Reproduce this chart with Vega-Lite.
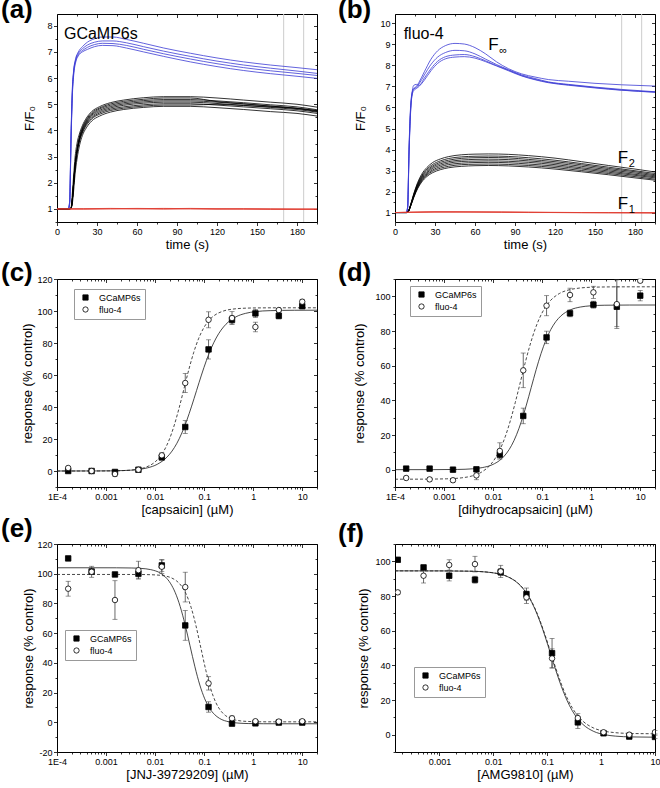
{
"$schema":"https://vega.github.io/schema/vega-lite/v6.json",
"padding":{"top":-4,"left":0,"right":0,"bottom":0},
"background":"white",
"config":{
"font":"Liberation Sans",
"view":{"stroke":"black","strokeWidth":1},
"axis":{"grid":false,"domain":false,"labelFont":"Liberation Sans","labelFontSize":9,"labelColor":"black","labelPadding":1.5,"labelFlush":false,"labelOverlap":false,"labelBound":false,"titleFont":"Liberation Sans","titleFontSize":13,"titleFontWeight":"normal","titleColor":"black","tickColor":"black","tickWidth":0.8,"titlePadding":2},
"title":{"font":"Liberation Sans","fontSize":26,"fontWeight":"bold","anchor":"start","frame":"group","offset":0,"color":"black"},
"legend":{"labelFont":"Liberation Sans","labelFontSize":9,"labelColor":"black","symbolStrokeColor":"black","symbolStrokeWidth":0.8,"symbolSize":28,"padding":4,"rowPadding":2,"strokeColor":"#999999","fillColor":"white","labelOffset":9,"symbolOffset":3},
"text":{"font":"Liberation Sans","color":"black"}
},
"datasets":{
"vr":[{"t":170},{"t":185}],
"lab":[{"p":"a","t":5.2,"y":7.49,"txt":"GCaMP6s"},{"p":"b","t":6.5,"y":9.25,"txt":"fluo-4"}],
"flab":[{"t":70,"y":8.73,"sub":"∞"},{"t":167,"y":3.37,"sub":"2"},{"t":167,"y":1.17,"sub":"1"}],
"ta":[
{"k":"b1","t":0,"y":1},{"k":"b1","t":8.5,"y":1},{"k":"b1","t":9.5,"y":1.3},{"k":"b1","t":10.5,"y":3.8},{"k":"b1","t":11.5,"y":5.6},{"k":"b1","t":12.5,"y":6.3},{"k":"b1","t":14,"y":6.75},{"k":"b1","t":16,"y":7.0},{"k":"b1","t":19,"y":7.2},{"k":"b1","t":23,"y":7.38},{"k":"b1","t":28,"y":7.5},{"k":"b1","t":34,"y":7.57},{"k":"b1","t":42,"y":7.57},{"k":"b1","t":52,"y":7.48},{"k":"b1","t":65,"y":7.33},{"k":"b1","t":80,"y":7.15},{"k":"b1","t":100,"y":6.95},{"k":"b1","t":120,"y":6.77},{"k":"b1","t":140,"y":6.62},{"k":"b1","t":160,"y":6.5},{"k":"b1","t":180,"y":6.4},{"k":"b1","t":195,"y":6.32},
{"k":"b2","t":0,"y":1},{"k":"b2","t":8.5,"y":1},{"k":"b2","t":9.5,"y":1.3},{"k":"b2","t":10.5,"y":3.7},{"k":"b2","t":11.5,"y":5.5},{"k":"b2","t":12.5,"y":6.25},{"k":"b2","t":14,"y":6.7},{"k":"b2","t":16,"y":6.95},{"k":"b2","t":19,"y":7.12},{"k":"b2","t":23,"y":7.27},{"k":"b2","t":28,"y":7.37},{"k":"b2","t":34,"y":7.42},{"k":"b2","t":42,"y":7.42},{"k":"b2","t":52,"y":7.35},{"k":"b2","t":65,"y":7.2},{"k":"b2","t":80,"y":7.03},{"k":"b2","t":100,"y":6.83},{"k":"b2","t":120,"y":6.65},{"k":"b2","t":140,"y":6.5},{"k":"b2","t":160,"y":6.38},{"k":"b2","t":180,"y":6.27},{"k":"b2","t":195,"y":6.18},
{"k":"b3","t":0,"y":1},{"k":"b3","t":8.5,"y":1},{"k":"b3","t":9.5,"y":1.25},{"k":"b3","t":10.5,"y":3.6},{"k":"b3","t":11.5,"y":5.4},{"k":"b3","t":12.5,"y":6.2},{"k":"b3","t":14,"y":6.65},{"k":"b3","t":16,"y":6.9},{"k":"b3","t":19,"y":7.05},{"k":"b3","t":23,"y":7.18},{"k":"b3","t":28,"y":7.28},{"k":"b3","t":34,"y":7.33},{"k":"b3","t":42,"y":7.32},{"k":"b3","t":52,"y":7.25},{"k":"b3","t":65,"y":7.1},{"k":"b3","t":80,"y":6.93},{"k":"b3","t":100,"y":6.73},{"k":"b3","t":120,"y":6.55},{"k":"b3","t":140,"y":6.4},{"k":"b3","t":160,"y":6.28},{"k":"b3","t":180,"y":6.18},{"k":"b3","t":195,"y":6.1},
{"k":"b4","t":0,"y":1},{"k":"b4","t":8.5,"y":1},{"k":"b4","t":9.5,"y":1.2},{"k":"b4","t":10.5,"y":3.5},{"k":"b4","t":11.5,"y":5.3},{"k":"b4","t":12.5,"y":6.1},{"k":"b4","t":14,"y":6.6},{"k":"b4","t":16,"y":6.85},{"k":"b4","t":19,"y":7.0},{"k":"b4","t":23,"y":7.1},{"k":"b4","t":28,"y":7.2},{"k":"b4","t":34,"y":7.25},{"k":"b4","t":42,"y":7.24},{"k":"b4","t":52,"y":7.15},{"k":"b4","t":65,"y":7.0},{"k":"b4","t":80,"y":6.83},{"k":"b4","t":100,"y":6.62},{"k":"b4","t":120,"y":6.44},{"k":"b4","t":140,"y":6.29},{"k":"b4","t":160,"y":6.17},{"k":"b4","t":180,"y":6.07},{"k":"b4","t":195,"y":5.99},
{"k":"k1","t":0,"y":1},{"k":"k1","t":9,"y":1},{"k":"k1","t":10.5,"y":1.02},{"k":"k1","t":11.5,"y":1.2},{"k":"k1","t":12.5,"y":1.7},{"k":"k1","t":13.5,"y":2.3},{"k":"k1","t":15,"y":2.9},{"k":"k1","t":17,"y":3.45},{"k":"k1","t":19,"y":3.8},{"k":"k1","t":22,"y":4.1},{"k":"k1","t":26,"y":4.36},{"k":"k1","t":32,"y":4.55},{"k":"k1","t":40,"y":4.7},{"k":"k1","t":50,"y":4.8},{"k":"k1","t":65,"y":4.88},{"k":"k1","t":80,"y":4.92},{"k":"k1","t":100,"y":4.92},{"k":"k1","t":120,"y":4.87},{"k":"k1","t":140,"y":4.8},{"k":"k1","t":160,"y":4.72},{"k":"k1","t":180,"y":4.65},{"k":"k1","t":195,"y":4.55},
{"k":"k2","t":0,"y":1},{"k":"k2","t":9,"y":1},{"k":"k2","t":10.5,"y":1.02},{"k":"k2","t":11.5,"y":1.34},{"k":"k2","t":12.5,"y":1.97},{"k":"k2","t":13.5,"y":2.55},{"k":"k2","t":15,"y":3.13},{"k":"k2","t":17,"y":3.61},{"k":"k2","t":19,"y":3.9},{"k":"k2","t":22,"y":4.19},{"k":"k2","t":26,"y":4.44},{"k":"k2","t":32,"y":4.62},{"k":"k2","t":40,"y":4.76},{"k":"k2","t":50,"y":4.85},{"k":"k2","t":65,"y":4.93},{"k":"k2","t":80,"y":4.97},{"k":"k2","t":100,"y":4.97},{"k":"k2","t":120,"y":5.0},{"k":"k2","t":140,"y":4.95},{"k":"k2","t":160,"y":4.9},{"k":"k2","t":180,"y":4.84},{"k":"k2","t":195,"y":4.76},
{"k":"k3","t":0,"y":1},{"k":"k3","t":9,"y":1},{"k":"k3","t":10.5,"y":1.02},{"k":"k3","t":11.5,"y":1.34},{"k":"k3","t":12.5,"y":1.98},{"k":"k3","t":13.5,"y":2.57},{"k":"k3","t":15,"y":3.16},{"k":"k3","t":17,"y":3.65},{"k":"k3","t":19,"y":3.94},{"k":"k3","t":22,"y":4.24},{"k":"k3","t":26,"y":4.48},{"k":"k3","t":32,"y":4.67},{"k":"k3","t":40,"y":4.81},{"k":"k3","t":50,"y":4.9},{"k":"k3","t":65,"y":4.98},{"k":"k3","t":80,"y":5.02},{"k":"k3","t":100,"y":5.02},{"k":"k3","t":120,"y":4.97},{"k":"k3","t":140,"y":4.9},{"k":"k3","t":160,"y":4.83},{"k":"k3","t":180,"y":4.75},{"k":"k3","t":195,"y":4.65},
{"k":"k4","t":0,"y":1},{"k":"k4","t":9,"y":1},{"k":"k4","t":10.5,"y":1.02},{"k":"k4","t":11.5,"y":1.35},{"k":"k4","t":12.5,"y":1.99},{"k":"k4","t":13.5,"y":2.59},{"k":"k4","t":15,"y":3.19},{"k":"k4","t":17,"y":3.68},{"k":"k4","t":19,"y":3.98},{"k":"k4","t":22,"y":4.28},{"k":"k4","t":26,"y":4.53},{"k":"k4","t":32,"y":4.72},{"k":"k4","t":40,"y":4.86},{"k":"k4","t":50,"y":4.96},{"k":"k4","t":65,"y":5.04},{"k":"k4","t":80,"y":5.08},{"k":"k4","t":100,"y":5.08},{"k":"k4","t":120,"y":5.03},{"k":"k4","t":140,"y":4.96},{"k":"k4","t":160,"y":4.88},{"k":"k4","t":180,"y":4.8},{"k":"k4","t":195,"y":4.7},
{"k":"k5","t":0,"y":1},{"k":"k5","t":9,"y":1},{"k":"k5","t":10.5,"y":1.02},{"k":"k5","t":11.5,"y":1.35},{"k":"k5","t":12.5,"y":2.01},{"k":"k5","t":13.5,"y":2.61},{"k":"k5","t":15,"y":3.22},{"k":"k5","t":17,"y":3.72},{"k":"k5","t":19,"y":4.02},{"k":"k5","t":22,"y":4.32},{"k":"k5","t":26,"y":4.58},{"k":"k5","t":32,"y":4.77},{"k":"k5","t":40,"y":4.91},{"k":"k5","t":50,"y":5.01},{"k":"k5","t":65,"y":5.09},{"k":"k5","t":80,"y":5.13},{"k":"k5","t":100,"y":5.13},{"k":"k5","t":120,"y":5.08},{"k":"k5","t":140,"y":5.01},{"k":"k5","t":160,"y":4.93},{"k":"k5","t":180,"y":4.85},{"k":"k5","t":195,"y":4.75},
{"k":"k6","t":0,"y":1},{"k":"k6","t":9,"y":1},{"k":"k6","t":10.5,"y":1.02},{"k":"k6","t":11.5,"y":1.36},{"k":"k6","t":12.5,"y":2.02},{"k":"k6","t":13.5,"y":2.63},{"k":"k6","t":15,"y":3.24},{"k":"k6","t":17,"y":3.75},{"k":"k6","t":19,"y":4.06},{"k":"k6","t":22,"y":4.37},{"k":"k6","t":26,"y":4.62},{"k":"k6","t":32,"y":4.82},{"k":"k6","t":40,"y":4.96},{"k":"k6","t":50,"y":5.06},{"k":"k6","t":65,"y":5.14},{"k":"k6","t":80,"y":5.18},{"k":"k6","t":100,"y":5.18},{"k":"k6","t":120,"y":5.13},{"k":"k6","t":140,"y":5.06},{"k":"k6","t":160,"y":4.98},{"k":"k6","t":180,"y":4.9},{"k":"k6","t":195,"y":4.79},
{"k":"k7","t":0,"y":1},{"k":"k7","t":9,"y":1},{"k":"k7","t":10.5,"y":1.02},{"k":"k7","t":11.5,"y":1.36},{"k":"k7","t":12.5,"y":2.03},{"k":"k7","t":13.5,"y":2.65},{"k":"k7","t":15,"y":3.27},{"k":"k7","t":17,"y":3.79},{"k":"k7","t":19,"y":4.1},{"k":"k7","t":22,"y":4.41},{"k":"k7","t":26,"y":4.67},{"k":"k7","t":32,"y":4.86},{"k":"k7","t":40,"y":5.01},{"k":"k7","t":50,"y":5.11},{"k":"k7","t":65,"y":5.19},{"k":"k7","t":80,"y":5.24},{"k":"k7","t":100,"y":5.24},{"k":"k7","t":120,"y":5.1},{"k":"k7","t":140,"y":5.02},{"k":"k7","t":160,"y":4.93},{"k":"k7","t":180,"y":4.84},{"k":"k7","t":195,"y":4.72},
{"k":"k8","t":0,"y":1},{"k":"k8","t":9,"y":1},{"k":"k8","t":10.5,"y":1.05},{"k":"k8","t":11.5,"y":1.6},{"k":"k8","t":12.5,"y":2.3},{"k":"k8","t":13.5,"y":2.95},{"k":"k8","t":15,"y":3.5},{"k":"k8","t":17,"y":3.9},{"k":"k8","t":19,"y":4.18},{"k":"k8","t":22,"y":4.47},{"k":"k8","t":26,"y":4.72},{"k":"k8","t":32,"y":4.91},{"k":"k8","t":40,"y":5.06},{"k":"k8","t":50,"y":5.16},{"k":"k8","t":65,"y":5.25},{"k":"k8","t":80,"y":5.29},{"k":"k8","t":100,"y":5.29},{"k":"k8","t":120,"y":5.24},{"k":"k8","t":140,"y":5.16},{"k":"k8","t":160,"y":5.08},{"k":"k8","t":180,"y":5.0},{"k":"k8","t":195,"y":4.89},
{"k":"r1","t":0,"y":1.0},{"k":"r1","t":20,"y":1.01},{"k":"r1","t":40,"y":1.02},{"k":"r1","t":60,"y":1.01},{"k":"r1","t":80,"y":1.02},{"k":"r1","t":100,"y":1.01},{"k":"r1","t":120,"y":1.0},{"k":"r1","t":140,"y":1.01},{"k":"r1","t":160,"y":1.0},{"k":"r1","t":180,"y":0.99},{"k":"r1","t":195,"y":1.0},
{"k":"r2","t":0,"y":1.0},{"k":"r2","t":20,"y":0.99},{"k":"r2","t":40,"y":1.0},{"k":"r2","t":60,"y":1.0},{"k":"r2","t":80,"y":0.99},{"k":"r2","t":100,"y":1.0},{"k":"r2","t":120,"y":0.99},{"k":"r2","t":140,"y":0.99},{"k":"r2","t":160,"y":0.98},{"k":"r2","t":180,"y":0.98},{"k":"r2","t":195,"y":0.98},
{"k":"r3","t":0,"y":1.0},{"k":"r3","t":20,"y":1.0},{"k":"r3","t":40,"y":1.01},{"k":"r3","t":60,"y":1.02},{"k":"r3","t":80,"y":1.01},{"k":"r3","t":100,"y":1.02},{"k":"r3","t":120,"y":1.01},{"k":"r3","t":140,"y":1.0},{"k":"r3","t":160,"y":1.0},{"k":"r3","t":180,"y":1.0},{"k":"r3","t":195,"y":0.99}
],
"tb":[
{"k":"b1","t":0,"y":1},{"k":"b1","t":8.5,"y":1},{"k":"b1","t":9.5,"y":1.3},{"k":"b1","t":10.5,"y":4.0},{"k":"b1","t":11.5,"y":5.8},{"k":"b1","t":12.5,"y":6.6},{"k":"b1","t":14,"y":6.9},{"k":"b1","t":16,"y":7.0},{"k":"b1","t":18,"y":7.2},{"k":"b1","t":22,"y":7.7},{"k":"b1","t":27,"y":8.3},{"k":"b1","t":32,"y":8.7},{"k":"b1","t":38,"y":8.95},{"k":"b1","t":45,"y":9.05},{"k":"b1","t":52,"y":9.02},{"k":"b1","t":60,"y":8.85},{"k":"b1","t":68,"y":8.55},{"k":"b1","t":76,"y":8.18},{"k":"b1","t":85,"y":7.85},{"k":"b1","t":95,"y":7.6},{"k":"b1","t":105,"y":7.45},{"k":"b1","t":115,"y":7.33},{"k":"b1","t":130,"y":7.25},{"k":"b1","t":150,"y":7.15},{"k":"b1","t":170,"y":7.08},{"k":"b1","t":195,"y":7.02},
{"k":"b2","t":0,"y":1},{"k":"b2","t":8.5,"y":1},{"k":"b2","t":9.5,"y":1.3},{"k":"b2","t":10.5,"y":3.9},{"k":"b2","t":11.5,"y":5.7},{"k":"b2","t":12.5,"y":6.55},{"k":"b2","t":14,"y":6.88},{"k":"b2","t":16,"y":6.95},{"k":"b2","t":18,"y":7.12},{"k":"b2","t":22,"y":7.55},{"k":"b2","t":27,"y":8.05},{"k":"b2","t":32,"y":8.4},{"k":"b2","t":38,"y":8.62},{"k":"b2","t":45,"y":8.72},{"k":"b2","t":52,"y":8.7},{"k":"b2","t":60,"y":8.55},{"k":"b2","t":68,"y":8.3},{"k":"b2","t":76,"y":8.05},{"k":"b2","t":85,"y":7.8},{"k":"b2","t":95,"y":7.55},{"k":"b2","t":105,"y":7.38},{"k":"b2","t":115,"y":7.22},{"k":"b2","t":130,"y":7.1},{"k":"b2","t":150,"y":6.97},{"k":"b2","t":170,"y":6.86},{"k":"b2","t":195,"y":6.75},
{"k":"b3","t":0,"y":1},{"k":"b3","t":8.5,"y":1},{"k":"b3","t":9.5,"y":1.25},{"k":"b3","t":10.5,"y":3.8},{"k":"b3","t":11.5,"y":5.6},{"k":"b3","t":12.5,"y":6.5},{"k":"b3","t":14,"y":7.05},{"k":"b3","t":16,"y":7.1},{"k":"b3","t":18,"y":7.05},{"k":"b3","t":22,"y":7.4},{"k":"b3","t":27,"y":7.85},{"k":"b3","t":32,"y":8.2},{"k":"b3","t":38,"y":8.42},{"k":"b3","t":45,"y":8.5},{"k":"b3","t":52,"y":8.52},{"k":"b3","t":60,"y":8.42},{"k":"b3","t":68,"y":8.22},{"k":"b3","t":76,"y":8.0},{"k":"b3","t":85,"y":7.78},{"k":"b3","t":95,"y":7.52},{"k":"b3","t":105,"y":7.34},{"k":"b3","t":115,"y":7.2},{"k":"b3","t":130,"y":7.08},{"k":"b3","t":150,"y":6.95},{"k":"b3","t":170,"y":6.83},{"k":"b3","t":195,"y":6.72},
{"k":"b4","t":0,"y":1},{"k":"b4","t":8.5,"y":1},{"k":"b4","t":9.5,"y":1.2},{"k":"b4","t":10.5,"y":3.7},{"k":"b4","t":11.5,"y":5.5},{"k":"b4","t":12.5,"y":6.45},{"k":"b4","t":14,"y":6.8},{"k":"b4","t":16,"y":6.9},{"k":"b4","t":18,"y":7.0},{"k":"b4","t":22,"y":7.3},{"k":"b4","t":27,"y":7.75},{"k":"b4","t":32,"y":8.1},{"k":"b4","t":38,"y":8.32},{"k":"b4","t":45,"y":8.4},{"k":"b4","t":52,"y":8.42},{"k":"b4","t":60,"y":8.35},{"k":"b4","t":68,"y":8.18},{"k":"b4","t":76,"y":7.98},{"k":"b4","t":85,"y":7.75},{"k":"b4","t":95,"y":7.5},{"k":"b4","t":105,"y":7.32},{"k":"b4","t":115,"y":7.18},{"k":"b4","t":130,"y":7.06},{"k":"b4","t":150,"y":6.93},{"k":"b4","t":170,"y":6.82},{"k":"b4","t":195,"y":6.74},
{"k":"k1","t":0,"y":1},{"k":"k1","t":9,"y":1},{"k":"k1","t":10,"y":1.04},{"k":"k1","t":12,"y":1.35},{"k":"k1","t":14,"y":1.7},{"k":"k1","t":17,"y":2.14},{"k":"k1","t":20,"y":2.45},{"k":"k1","t":24,"y":2.72},{"k":"k1","t":28,"y":2.89},{"k":"k1","t":34,"y":3.04},{"k":"k1","t":40,"y":3.13},{"k":"k1","t":50,"y":3.2},{"k":"k1","t":60,"y":3.23},{"k":"k1","t":70,"y":3.24},{"k":"k1","t":85,"y":3.22},{"k":"k1","t":100,"y":3.17},{"k":"k1","t":120,"y":3.07},{"k":"k1","t":140,"y":2.94},{"k":"k1","t":160,"y":2.8},{"k":"k1","t":180,"y":2.65},{"k":"k1","t":195,"y":2.54},
{"k":"k2","t":0,"y":1},{"k":"k2","t":9,"y":1},{"k":"k2","t":10,"y":1.05},{"k":"k2","t":12,"y":1.36},{"k":"k2","t":14,"y":1.73},{"k":"k2","t":17,"y":2.18},{"k":"k2","t":20,"y":2.5},{"k":"k2","t":24,"y":2.78},{"k":"k2","t":28,"y":2.96},{"k":"k2","t":34,"y":3.11},{"k":"k2","t":40,"y":3.2},{"k":"k2","t":50,"y":3.28},{"k":"k2","t":60,"y":3.3},{"k":"k2","t":70,"y":3.31},{"k":"k2","t":85,"y":3.29},{"k":"k2","t":100,"y":3.24},{"k":"k2","t":120,"y":3.14},{"k":"k2","t":140,"y":3.0},{"k":"k2","t":160,"y":2.86},{"k":"k2","t":180,"y":2.71},{"k":"k2","t":195,"y":2.59},
{"k":"k3","t":0,"y":1},{"k":"k3","t":9,"y":1},{"k":"k3","t":10,"y":1.05},{"k":"k3","t":12,"y":1.38},{"k":"k3","t":14,"y":1.75},{"k":"k3","t":17,"y":2.22},{"k":"k3","t":20,"y":2.55},{"k":"k3","t":24,"y":2.83},{"k":"k3","t":28,"y":3.02},{"k":"k3","t":34,"y":3.18},{"k":"k3","t":40,"y":3.28},{"k":"k3","t":50,"y":3.35},{"k":"k3","t":60,"y":3.38},{"k":"k3","t":70,"y":3.39},{"k":"k3","t":85,"y":3.37},{"k":"k3","t":100,"y":3.31},{"k":"k3","t":120,"y":3.21},{"k":"k3","t":140,"y":3.07},{"k":"k3","t":160,"y":2.92},{"k":"k3","t":180,"y":2.77},{"k":"k3","t":195,"y":2.65},
{"k":"k4","t":0,"y":1},{"k":"k4","t":9,"y":1},{"k":"k4","t":10,"y":1.05},{"k":"k4","t":12,"y":1.39},{"k":"k4","t":14,"y":1.78},{"k":"k4","t":17,"y":2.26},{"k":"k4","t":20,"y":2.6},{"k":"k4","t":24,"y":2.89},{"k":"k4","t":28,"y":3.09},{"k":"k4","t":34,"y":3.25},{"k":"k4","t":40,"y":3.35},{"k":"k4","t":50,"y":3.43},{"k":"k4","t":60,"y":3.45},{"k":"k4","t":70,"y":3.46},{"k":"k4","t":85,"y":3.44},{"k":"k4","t":100,"y":3.39},{"k":"k4","t":120,"y":3.28},{"k":"k4","t":140,"y":3.13},{"k":"k4","t":160,"y":2.98},{"k":"k4","t":180,"y":2.82},{"k":"k4","t":195,"y":2.7},
{"k":"k5","t":0,"y":1},{"k":"k5","t":9,"y":1},{"k":"k5","t":10,"y":1.05},{"k":"k5","t":12,"y":1.4},{"k":"k5","t":14,"y":1.8},{"k":"k5","t":17,"y":2.3},{"k":"k5","t":20,"y":2.65},{"k":"k5","t":24,"y":2.95},{"k":"k5","t":28,"y":3.15},{"k":"k5","t":34,"y":3.32},{"k":"k5","t":40,"y":3.42},{"k":"k5","t":50,"y":3.5},{"k":"k5","t":60,"y":3.53},{"k":"k5","t":70,"y":3.54},{"k":"k5","t":85,"y":3.52},{"k":"k5","t":100,"y":3.46},{"k":"k5","t":120,"y":3.35},{"k":"k5","t":140,"y":3.2},{"k":"k5","t":160,"y":3.04},{"k":"k5","t":180,"y":2.88},{"k":"k5","t":195,"y":2.75},
{"k":"k6","t":0,"y":1},{"k":"k6","t":9,"y":1},{"k":"k6","t":10,"y":1.05},{"k":"k6","t":12,"y":1.41},{"k":"k6","t":14,"y":1.82},{"k":"k6","t":17,"y":2.34},{"k":"k6","t":20,"y":2.7},{"k":"k6","t":24,"y":3.01},{"k":"k6","t":28,"y":3.21},{"k":"k6","t":34,"y":3.39},{"k":"k6","t":40,"y":3.49},{"k":"k6","t":50,"y":3.58},{"k":"k6","t":60,"y":3.61},{"k":"k6","t":70,"y":3.62},{"k":"k6","t":85,"y":3.6},{"k":"k6","t":100,"y":3.53},{"k":"k6","t":120,"y":3.42},{"k":"k6","t":140,"y":3.27},{"k":"k6","t":160,"y":3.1},{"k":"k6","t":180,"y":2.94},{"k":"k6","t":195,"y":2.8},
{"k":"k7","t":0,"y":1},{"k":"k7","t":9,"y":1},{"k":"k7","t":10,"y":1.05},{"k":"k7","t":12,"y":1.42},{"k":"k7","t":14,"y":1.85},{"k":"k7","t":17,"y":2.38},{"k":"k7","t":20,"y":2.75},{"k":"k7","t":24,"y":3.07},{"k":"k7","t":28,"y":3.28},{"k":"k7","t":34,"y":3.46},{"k":"k7","t":40,"y":3.57},{"k":"k7","t":50,"y":3.65},{"k":"k7","t":60,"y":3.68},{"k":"k7","t":70,"y":3.69},{"k":"k7","t":85,"y":3.67},{"k":"k7","t":100,"y":3.61},{"k":"k7","t":120,"y":3.49},{"k":"k7","t":140,"y":3.33},{"k":"k7","t":160,"y":3.16},{"k":"k7","t":180,"y":2.99},{"k":"k7","t":195,"y":2.86},
{"k":"k8","t":0,"y":1},{"k":"k8","t":9,"y":1},{"k":"k8","t":10,"y":1.06},{"k":"k8","t":12,"y":1.44},{"k":"k8","t":14,"y":1.88},{"k":"k8","t":17,"y":2.43},{"k":"k8","t":20,"y":2.82},{"k":"k8","t":24,"y":3.15},{"k":"k8","t":28,"y":3.37},{"k":"k8","t":34,"y":3.55},{"k":"k8","t":40,"y":3.66},{"k":"k8","t":50,"y":3.75},{"k":"k8","t":60,"y":3.78},{"k":"k8","t":70,"y":3.79},{"k":"k8","t":85,"y":3.77},{"k":"k8","t":100,"y":3.71},{"k":"k8","t":120,"y":3.59},{"k":"k8","t":140,"y":3.42},{"k":"k8","t":160,"y":3.24},{"k":"k8","t":180,"y":3.07},{"k":"k8","t":195,"y":2.93},
{"k":"r1","t":0,"y":1.0},{"k":"r1","t":15,"y":1.02},{"k":"r1","t":30,"y":1.03},{"k":"r1","t":45,"y":1.03},{"k":"r1","t":60,"y":1.03},{"k":"r1","t":80,"y":1.02},{"k":"r1","t":100,"y":1.01},{"k":"r1","t":120,"y":1.0},{"k":"r1","t":140,"y":1.0},{"k":"r1","t":160,"y":0.99},{"k":"r1","t":180,"y":0.99},{"k":"r1","t":195,"y":0.99},
{"k":"r2","t":0,"y":1.0},{"k":"r2","t":15,"y":1.01},{"k":"r2","t":30,"y":1.02},{"k":"r2","t":45,"y":1.02},{"k":"r2","t":60,"y":1.02},{"k":"r2","t":80,"y":1.01},{"k":"r2","t":100,"y":1.0},{"k":"r2","t":120,"y":1.0},{"k":"r2","t":140,"y":0.99},{"k":"r2","t":160,"y":0.99},{"k":"r2","t":180,"y":0.98},{"k":"r2","t":195,"y":0.98},
{"k":"r3","t":0,"y":1.0},{"k":"r3","t":15,"y":1.02},{"k":"r3","t":30,"y":1.04},{"k":"r3","t":45,"y":1.04},{"k":"r3","t":60,"y":1.03},{"k":"r3","t":80,"y":1.03},{"k":"r3","t":100,"y":1.02},{"k":"r3","t":120,"y":1.01},{"k":"r3","t":140,"y":1.0},{"k":"r3","t":160,"y":1.0},{"k":"r3","t":180,"y":1.0},{"k":"r3","t":195,"y":0.99}
],
"pts":[
{"p":"c","s":"GCaMP6s","c":0.000169,"y":0,"e":1},{"p":"c","s":"GCaMP6s","c":0.000508,"y":0,"e":1},{"p":"c","s":"GCaMP6s","c":0.00152,"y":-0.6,"e":1},{"p":"c","s":"GCaMP6s","c":0.00457,"y":0.8,"e":1},{"p":"c","s":"GCaMP6s","c":0.0137,"y":8.5,"e":1.5},{"p":"c","s":"GCaMP6s","c":0.0412,"y":27.5,"e":4},{"p":"c","s":"GCaMP6s","c":0.123,"y":76,"e":6},{"p":"c","s":"GCaMP6s","c":0.37,"y":94.5,"e":2.5},{"p":"c","s":"GCaMP6s","c":1.11,"y":98.5,"e":2.5},{"p":"c","s":"GCaMP6s","c":3.33,"y":97,"e":2},{"p":"c","s":"GCaMP6s","c":10,"y":103,"e":1.5},
{"p":"c","s":"fluo-4","c":0.000169,"y":1.9,"e":1},{"p":"c","s":"fluo-4","c":0.000508,"y":0,"e":1},{"p":"c","s":"fluo-4","c":0.00152,"y":-1.9,"e":1.5},{"p":"c","s":"fluo-4","c":0.00457,"y":0.8,"e":1},{"p":"c","s":"fluo-4","c":0.0137,"y":9.8,"e":1.5},{"p":"c","s":"fluo-4","c":0.0412,"y":55,"e":6},{"p":"c","s":"fluo-4","c":0.123,"y":94.5,"e":5},{"p":"c","s":"fluo-4","c":0.37,"y":95.6,"e":4},{"p":"c","s":"fluo-4","c":1.11,"y":90,"e":3},{"p":"c","s":"fluo-4","c":3.33,"y":100.6,"e":1},{"p":"c","s":"fluo-4","c":10,"y":105.8,"e":1.5},
{"p":"d","s":"GCaMP6s","c":0.000169,"y":0.6,"e":1},{"p":"d","s":"GCaMP6s","c":0.000508,"y":0.6,"e":1},{"p":"d","s":"GCaMP6s","c":0.00152,"y":0,"e":1},{"p":"d","s":"GCaMP6s","c":0.00457,"y":0.2,"e":1},{"p":"d","s":"GCaMP6s","c":0.0137,"y":8.7,"e":2},{"p":"d","s":"GCaMP6s","c":0.0412,"y":31,"e":4.5},{"p":"d","s":"GCaMP6s","c":0.123,"y":76.3,"e":3.6},{"p":"d","s":"GCaMP6s","c":0.37,"y":90.2,"e":2},{"p":"d","s":"GCaMP6s","c":1.11,"y":95.2,"e":2},{"p":"d","s":"GCaMP6s","c":3.33,"y":94,"e":11.5},{"p":"d","s":"GCaMP6s","c":10,"y":100.4,"e":3},
{"p":"d","s":"fluo-4","c":0.000169,"y":-4.8,"e":1},{"p":"d","s":"fluo-4","c":0.000508,"y":-5.6,"e":1},{"p":"d","s":"fluo-4","c":0.00152,"y":-6.1,"e":1},{"p":"d","s":"fluo-4","c":0.00457,"y":-3.3,"e":2.5},{"p":"d","s":"fluo-4","c":0.0137,"y":10.8,"e":4.7},{"p":"d","s":"fluo-4","c":0.0412,"y":57.3,"e":10},{"p":"d","s":"fluo-4","c":0.123,"y":94.6,"e":5.8},{"p":"d","s":"fluo-4","c":0.37,"y":100.8,"e":3.9},{"p":"d","s":"fluo-4","c":1.11,"y":102.3,"e":3.5},{"p":"d","s":"fluo-4","c":3.33,"y":95.5,"e":14},{"p":"d","s":"fluo-4","c":10,"y":109,"e":1},
{"p":"e","s":"GCaMP6s","c":0.000169,"y":110.3,"e":1},{"p":"e","s":"GCaMP6s","c":0.000508,"y":101.5,"e":1},{"p":"e","s":"GCaMP6s","c":0.00152,"y":99.5,"e":1},{"p":"e","s":"GCaMP6s","c":0.00457,"y":100,"e":3},{"p":"e","s":"GCaMP6s","c":0.0137,"y":105.6,"e":4},{"p":"e","s":"GCaMP6s","c":0.0412,"y":65.2,"e":10},{"p":"e","s":"GCaMP6s","c":0.123,"y":10.3,"e":3.5},{"p":"e","s":"GCaMP6s","c":0.37,"y":-0.9,"e":1},{"p":"e","s":"GCaMP6s","c":1.11,"y":-0.7,"e":1},{"p":"e","s":"GCaMP6s","c":3.33,"y":-0.2,"e":1},{"p":"e","s":"GCaMP6s","c":10,"y":-0.2,"e":1},
{"p":"e","s":"fluo-4","c":0.000169,"y":89.9,"e":5},{"p":"e","s":"fluo-4","c":0.000508,"y":101.3,"e":3.7},{"p":"e","s":"fluo-4","c":0.00152,"y":82.3,"e":13},{"p":"e","s":"fluo-4","c":0.00457,"y":102.4,"e":6},{"p":"e","s":"fluo-4","c":0.0137,"y":104.7,"e":4.5},{"p":"e","s":"fluo-4","c":0.0412,"y":91,"e":10},{"p":"e","s":"fluo-4","c":0.123,"y":26.2,"e":4.5},{"p":"e","s":"fluo-4","c":0.37,"y":2.7,"e":1.5},{"p":"e","s":"fluo-4","c":1.11,"y":0.7,"e":1},{"p":"e","s":"fluo-4","c":3.33,"y":0.5,"e":1},{"p":"e","s":"fluo-4","c":10,"y":0.7,"e":1},
{"p":"f","s":"GCaMP6s","c":0.000169,"y":100.9,"e":1},{"p":"f","s":"GCaMP6s","c":0.000508,"y":96.5,"e":1},{"p":"f","s":"GCaMP6s","c":0.00152,"y":91.7,"e":3},{"p":"f","s":"GCaMP6s","c":0.00457,"y":89.4,"e":2},{"p":"f","s":"GCaMP6s","c":0.0137,"y":93.8,"e":2},{"p":"f","s":"GCaMP6s","c":0.0412,"y":81.1,"e":3.5},{"p":"f","s":"GCaMP6s","c":0.123,"y":47,"e":8.5},{"p":"f","s":"GCaMP6s","c":0.37,"y":7.1,"e":3.5},{"p":"f","s":"GCaMP6s","c":1.11,"y":0.8,"e":1},{"p":"f","s":"GCaMP6s","c":3.33,"y":-1.1,"e":1},{"p":"f","s":"GCaMP6s","c":10,"y":-1.3,"e":1},
{"p":"f","s":"fluo-4","c":0.000169,"y":82.1,"e":1},{"p":"f","s":"fluo-4","c":0.000508,"y":91.7,"e":4.2},{"p":"f","s":"fluo-4","c":0.00152,"y":97.9,"e":3},{"p":"f","s":"fluo-4","c":0.00457,"y":98.4,"e":4.5},{"p":"f","s":"fluo-4","c":0.0137,"y":94.2,"e":3.5},{"p":"f","s":"fluo-4","c":0.0412,"y":79.2,"e":3.5},{"p":"f","s":"fluo-4","c":0.123,"y":44,"e":5.5},{"p":"f","s":"fluo-4","c":0.37,"y":9.6,"e":2.5},{"p":"f","s":"fluo-4","c":1.11,"y":1.4,"e":1},{"p":"f","s":"fluo-4","c":3.33,"y":0,"e":1},{"p":"f","s":"fluo-4","c":10,"y":1.4,"e":1}
],
"fit":[
{"p":"c","s":"GCaMP6s","c":0.0001,"y":0},{"p":"c","s":"GCaMP6s","c":0.0007,"y":0.04},{"p":"c","s":"GCaMP6s","c":0.002214,"y":0.28},{"p":"c","s":"GCaMP6s","c":0.004417,"y":0.9},{"p":"c","s":"GCaMP6s","c":0.007,"y":1.97},{"p":"c","s":"GCaMP6s","c":0.01109,"y":4.2},{"p":"c","s":"GCaMP6s","c":0.01758,"y":8.76},{"p":"c","s":"GCaMP6s","c":0.02214,"y":12.44},{"p":"c","s":"GCaMP6s","c":0.02787,"y":17.37},{"p":"c","s":"GCaMP6s","c":0.03508,"y":23.73},{"p":"c","s":"GCaMP6s","c":0.04417,"y":31.53},{"p":"c","s":"GCaMP6s","c":0.0556,"y":40.54},{"p":"c","s":"GCaMP6s","c":0.07,"y":50.25},{"p":"c","s":"GCaMP6s","c":0.08812,"y":59.96},{"p":"c","s":"GCaMP6s","c":0.1109,"y":68.97},{"p":"c","s":"GCaMP6s","c":0.1397,"y":76.77},{"p":"c","s":"GCaMP6s","c":0.1758,"y":83.13},{"p":"c","s":"GCaMP6s","c":0.2214,"y":88.06},{"p":"c","s":"GCaMP6s","c":0.2787,"y":91.74},{"p":"c","s":"GCaMP6s","c":0.4417,"y":96.3},{"p":"c","s":"GCaMP6s","c":0.7,"y":98.53},{"p":"c","s":"GCaMP6s","c":1.109,"y":99.6},{"p":"c","s":"GCaMP6s","c":2.214,"y":100.22},{"p":"c","s":"GCaMP6s","c":7,"y":100.46},{"p":"c","s":"GCaMP6s","c":20,"y":100.5},
{"p":"c","s":"fluo-4","c":0.0001,"y":0},{"p":"c","s":"fluo-4","c":0.000385,"y":0.01},{"p":"c","s":"fluo-4","c":0.001217,"y":0.07},{"p":"c","s":"fluo-4","c":0.002429,"y":0.31},{"p":"c","s":"fluo-4","c":0.00385,"y":0.81},{"p":"c","s":"fluo-4","c":0.006102,"y":2.09},{"p":"c","s":"fluo-4","c":0.009671,"y":5.31},{"p":"c","s":"fluo-4","c":0.01217,"y":8.34},{"p":"c","s":"fluo-4","c":0.01533,"y":12.88},{"p":"c","s":"fluo-4","c":0.0193,"y":19.37},{"p":"c","s":"fluo-4","c":0.02429,"y":28.1},{"p":"c","s":"fluo-4","c":0.03058,"y":38.9},{"p":"c","s":"fluo-4","c":0.0385,"y":51},{"p":"c","s":"fluo-4","c":0.04847,"y":63.1},{"p":"c","s":"fluo-4","c":0.06102,"y":73.9},{"p":"c","s":"fluo-4","c":0.07682,"y":82.63},{"p":"c","s":"fluo-4","c":0.09671,"y":89.12},{"p":"c","s":"fluo-4","c":0.1217,"y":93.66},{"p":"c","s":"fluo-4","c":0.1533,"y":96.69},{"p":"c","s":"fluo-4","c":0.2429,"y":99.91},{"p":"c","s":"fluo-4","c":0.385,"y":101.19},{"p":"c","s":"fluo-4","c":0.6102,"y":101.69},{"p":"c","s":"fluo-4","c":1.217,"y":101.93},{"p":"c","s":"fluo-4","c":3.85,"y":102},{"p":"c","s":"fluo-4","c":20,"y":102},
{"p":"d","s":"GCaMP6s","c":0.0001,"y":0},{"p":"d","s":"GCaMP6s","c":0.0006,"y":0.02},{"p":"d","s":"GCaMP6s","c":0.001897,"y":0.13},{"p":"d","s":"GCaMP6s","c":0.003786,"y":0.49},{"p":"d","s":"GCaMP6s","c":0.006,"y":1.18},{"p":"d","s":"GCaMP6s","c":0.00951,"y":2.78},{"p":"d","s":"GCaMP6s","c":0.01507,"y":6.41},{"p":"d","s":"GCaMP6s","c":0.01897,"y":9.59},{"p":"d","s":"GCaMP6s","c":0.02389,"y":14.07},{"p":"d","s":"GCaMP6s","c":0.03007,"y":20.15},{"p":"d","s":"GCaMP6s","c":0.03786,"y":27.95},{"p":"d","s":"GCaMP6s","c":0.04766,"y":37.27},{"p":"d","s":"GCaMP6s","c":0.06,"y":47.5},{"p":"d","s":"GCaMP6s","c":0.07553,"y":57.73},{"p":"d","s":"GCaMP6s","c":0.0951,"y":67.05},{"p":"d","s":"GCaMP6s","c":0.1197,"y":74.85},{"p":"d","s":"GCaMP6s","c":0.1507,"y":80.93},{"p":"d","s":"GCaMP6s","c":0.1897,"y":85.41},{"p":"d","s":"GCaMP6s","c":0.2389,"y":88.59},{"p":"d","s":"GCaMP6s","c":0.3786,"y":92.22},{"p":"d","s":"GCaMP6s","c":0.6,"y":93.82},{"p":"d","s":"GCaMP6s","c":0.951,"y":94.51},{"p":"d","s":"GCaMP6s","c":1.897,"y":94.87},{"p":"d","s":"GCaMP6s","c":6,"y":94.98},{"p":"d","s":"GCaMP6s","c":20,"y":95},
{"p":"d","s":"fluo-4","c":0.0001,"y":-5.5},{"p":"d","s":"fluo-4","c":0.000356,"y":-5.47},{"p":"d","s":"fluo-4","c":0.001126,"y":-5.28},{"p":"d","s":"fluo-4","c":0.002246,"y":-4.73},{"p":"d","s":"fluo-4","c":0.00356,"y":-3.77},{"p":"d","s":"fluo-4","c":0.005643,"y":-1.62},{"p":"d","s":"fluo-4","c":0.008943,"y":3.02},{"p":"d","s":"fluo-4","c":0.01126,"y":6.91},{"p":"d","s":"fluo-4","c":0.01417,"y":12.26},{"p":"d","s":"fluo-4","c":0.01784,"y":19.34},{"p":"d","s":"fluo-4","c":0.02246,"y":28.23},{"p":"d","s":"fluo-4","c":0.02828,"y":38.66},{"p":"d","s":"fluo-4","c":0.0356,"y":50},{"p":"d","s":"fluo-4","c":0.04482,"y":61.34},{"p":"d","s":"fluo-4","c":0.05642,"y":71.77},{"p":"d","s":"fluo-4","c":0.07103,"y":80.66},{"p":"d","s":"fluo-4","c":0.08942,"y":87.74},{"p":"d","s":"fluo-4","c":0.1126,"y":93.09},{"p":"d","s":"fluo-4","c":0.1417,"y":96.98},{"p":"d","s":"fluo-4","c":0.2246,"y":101.62},{"p":"d","s":"fluo-4","c":0.356,"y":103.77},{"p":"d","s":"fluo-4","c":0.5642,"y":104.73},{"p":"d","s":"fluo-4","c":1.126,"y":105.28},{"p":"d","s":"fluo-4","c":3.56,"y":105.47},{"p":"d","s":"fluo-4","c":20,"y":105.5},
{"p":"e","s":"GCaMP6s","c":0.0001,"y":104},{"p":"e","s":"GCaMP6s","c":0.000515,"y":104},{"p":"e","s":"GCaMP6s","c":0.001629,"y":103.98},{"p":"e","s":"GCaMP6s","c":0.00325,"y":103.86},{"p":"e","s":"GCaMP6s","c":0.00515,"y":103.58},{"p":"e","s":"GCaMP6s","c":0.008163,"y":102.75},{"p":"e","s":"GCaMP6s","c":0.01294,"y":100.33},{"p":"e","s":"GCaMP6s","c":0.01629,"y":97.76},{"p":"e","s":"GCaMP6s","c":0.0205,"y":93.63},{"p":"e","s":"GCaMP6s","c":0.02581,"y":87.2},{"p":"e","s":"GCaMP6s","c":0.0325,"y":77.89},{"p":"e","s":"GCaMP6s","c":0.04091,"y":65.65},{"p":"e","s":"GCaMP6s","c":0.0515,"y":51.5},{"p":"e","s":"GCaMP6s","c":0.06483,"y":37.35},{"p":"e","s":"GCaMP6s","c":0.08162,"y":25.11},{"p":"e","s":"GCaMP6s","c":0.1028,"y":15.8},{"p":"e","s":"GCaMP6s","c":0.1294,"y":9.37},{"p":"e","s":"GCaMP6s","c":0.1629,"y":5.24},{"p":"e","s":"GCaMP6s","c":0.205,"y":2.67},{"p":"e","s":"GCaMP6s","c":0.325,"y":0.25},{"p":"e","s":"GCaMP6s","c":0.515,"y":-0.58},{"p":"e","s":"GCaMP6s","c":0.8162,"y":-0.86},{"p":"e","s":"GCaMP6s","c":1.629,"y":-0.98},{"p":"e","s":"GCaMP6s","c":5.15,"y":-1},{"p":"e","s":"GCaMP6s","c":20,"y":-1},
{"p":"e","s":"fluo-4","c":0.0001,"y":99.5},{"p":"e","s":"fluo-4","c":0.00086,"y":99.5},{"p":"e","s":"fluo-4","c":0.002719,"y":99.49},{"p":"e","s":"fluo-4","c":0.005427,"y":99.45},{"p":"e","s":"fluo-4","c":0.0086,"y":99.3},{"p":"e","s":"fluo-4","c":0.01363,"y":98.82},{"p":"e","s":"fluo-4","c":0.0216,"y":97.18},{"p":"e","s":"fluo-4","c":0.02719,"y":95.25},{"p":"e","s":"fluo-4","c":0.03424,"y":91.88},{"p":"e","s":"fluo-4","c":0.0431,"y":86.2},{"p":"e","s":"fluo-4","c":0.05427,"y":77.3},{"p":"e","s":"fluo-4","c":0.06831,"y":64.84},{"p":"e","s":"fluo-4","c":0.086,"y":49.9},{"p":"e","s":"fluo-4","c":0.1083,"y":34.96},{"p":"e","s":"fluo-4","c":0.1363,"y":22.5},{"p":"e","s":"fluo-4","c":0.1716,"y":13.6},{"p":"e","s":"fluo-4","c":0.216,"y":7.92},{"p":"e","s":"fluo-4","c":0.2719,"y":4.55},{"p":"e","s":"fluo-4","c":0.3424,"y":2.62},{"p":"e","s":"fluo-4","c":0.5426,"y":0.98},{"p":"e","s":"fluo-4","c":0.86,"y":0.5},{"p":"e","s":"fluo-4","c":1.363,"y":0.35},{"p":"e","s":"fluo-4","c":2.719,"y":0.3},{"p":"e","s":"fluo-4","c":20,"y":0.3},
{"p":"f","s":"GCaMP6s","c":0.00015,"y":94.5},{"p":"f","s":"GCaMP6s","c":0.00116,"y":94.47},{"p":"f","s":"GCaMP6s","c":0.003668,"y":94.31},{"p":"f","s":"GCaMP6s","c":0.00732,"y":93.84},{"p":"f","s":"GCaMP6s","c":0.0116,"y":93},{"p":"f","s":"GCaMP6s","c":0.01839,"y":91.14},{"p":"f","s":"GCaMP6s","c":0.02914,"y":87.13},{"p":"f","s":"GCaMP6s","c":0.03668,"y":83.77},{"p":"f","s":"GCaMP6s","c":0.04618,"y":79.14},{"p":"f","s":"GCaMP6s","c":0.05814,"y":73.02},{"p":"f","s":"GCaMP6s","c":0.0732,"y":65.33},{"p":"f","s":"GCaMP6s","c":0.09214,"y":56.31},{"p":"f","s":"GCaMP6s","c":0.116,"y":46.5},{"p":"f","s":"GCaMP6s","c":0.146,"y":36.69},{"p":"f","s":"GCaMP6s","c":0.1839,"y":27.67},{"p":"f","s":"GCaMP6s","c":0.2315,"y":19.98},{"p":"f","s":"GCaMP6s","c":0.2914,"y":13.86},{"p":"f","s":"GCaMP6s","c":0.3668,"y":9.23},{"p":"f","s":"GCaMP6s","c":0.4618,"y":5.87},{"p":"f","s":"GCaMP6s","c":0.7319,"y":1.86},{"p":"f","s":"GCaMP6s","c":1.16,"y":0},{"p":"f","s":"GCaMP6s","c":1.838,"y":-0.84},{"p":"f","s":"GCaMP6s","c":3.668,"y":-1.31},{"p":"f","s":"GCaMP6s","c":10,"y":-1.47},
{"p":"f","s":"fluo-4","c":0.00015,"y":94.5},{"p":"f","s":"fluo-4","c":0.00116,"y":94.47},{"p":"f","s":"fluo-4","c":0.003668,"y":94.31},{"p":"f","s":"fluo-4","c":0.00732,"y":93.85},{"p":"f","s":"fluo-4","c":0.0116,"y":93.03},{"p":"f","s":"fluo-4","c":0.01839,"y":91.21},{"p":"f","s":"fluo-4","c":0.02914,"y":87.28},{"p":"f","s":"fluo-4","c":0.03668,"y":83.99},{"p":"f","s":"fluo-4","c":0.04618,"y":79.46},{"p":"f","s":"fluo-4","c":0.05814,"y":73.46},{"p":"f","s":"fluo-4","c":0.0732,"y":65.93},{"p":"f","s":"fluo-4","c":0.09214,"y":57.11},{"p":"f","s":"fluo-4","c":0.116,"y":47.5},{"p":"f","s":"fluo-4","c":0.146,"y":37.89},{"p":"f","s":"fluo-4","c":0.1839,"y":29.07},{"p":"f","s":"fluo-4","c":0.2315,"y":21.54},{"p":"f","s":"fluo-4","c":0.2914,"y":15.54},{"p":"f","s":"fluo-4","c":0.3668,"y":11.01},{"p":"f","s":"fluo-4","c":0.4618,"y":7.72},{"p":"f","s":"fluo-4","c":0.7319,"y":3.79},{"p":"f","s":"fluo-4","c":1.16,"y":1.97},{"p":"f","s":"fluo-4","c":1.838,"y":1.15},{"p":"f","s":"fluo-4","c":3.668,"y":0.69},{"p":"f","s":"fluo-4","c":10,"y":0.53}
]
},
"columns":2,
"spacing":{"row":57,"column":78},
"bounds":"flush",
"resolve":{"scale":{"shape":"independent","fill":"independent","stroke":"independent"},"legend":{"shape":"independent","fill":"independent","stroke":"independent"}},
"concat":[
{"title":{"text":"(a)","dx":-56,"dy":13},"width":260,"height":208,
"resolve":{"axis":{"x":"independent","y":"independent"}},
"layer":[
{"data":{"name":"vr"},"mark":{"type":"rule","color":"#cccccc","strokeWidth":1},
"encoding":{"x":{"field":"t","type":"quantitative","scale":{"domain":[0,195],"nice":false,"zero":false},
"axis":{"orient":"top","title":null,"labels":false,"values":[0,15,30,45,60,75,90,105,120,135,150,165,180,195],"tickSize":{"condition":{"test":"datum.value % 30 == 0","value":-3.5},"value":-2}}}}},
{"data":{"name":"ta"},"mark":{"type":"line","strokeWidth":0.8,"interpolate":"monotone"},
"encoding":{"x":{"field":"t","type":"quantitative","scale":{"domain":[0,195],"nice":false,"zero":false},
"axis":{"orient":"bottom","title":"time (s)","values":[0,15,30,45,60,75,90,105,120,135,150,165,180,195],"labelExpr":"datum.value % 30 == 0 ? '' + datum.value : ''","tickSize":{"condition":{"test":"datum.value % 30 == 0","value":3.5},"value":2}}},
"y":{"field":"y","type":"quantitative","scale":{"domain":[0.5,8.45],"nice":false,"zero":false},
"axis":{"orient":"left","title":"F/F₀","values":[0.5,1,1.5,2,2.5,3,3.5,4,4.5,5,5.5,6,6.5,7,7.5,8],"labelExpr":"datum.value % 1 == 0 ? '' + datum.value : ''","tickSize":{"condition":{"test":"datum.value % 1 == 0","value":3.5},"value":2},"titlePadding":10}},
"color":{"field":"k","type":"nominal","scale":{"domain":["k1","k2","k3","k4","k5","k6","k7","k8","b1","b2","b3","b4","r1","r2","r3"],"range":["#000000","#000000","#000000","#000000","#000000","#000000","#000000","#000000","#3b3bd4","#3b3bd4","#3b3bd4","#3b3bd4","#e03c31","#e03c31","#e03c31"]},"legend":null}}},
{"data":{"name":"lab"},"transform":[{"filter":"datum.p == 'a'"}],"mark":{"type":"text","fontSize":16,"align":"left","baseline":"alphabetic"},
"encoding":{"x":{"field":"t","type":"quantitative","scale":{"domain":[0,195],"nice":false,"zero":false},"axis":null},
"y":{"field":"y","type":"quantitative","scale":{"domain":[0.5,8.45],"nice":false,"zero":false},
"axis":{"orient":"right","title":null,"labels":false,"values":[0.5,1,1.5,2,2.5,3,3.5,4,4.5,5,5.5,6,6.5,7,7.5,8],"tickSize":{"condition":{"test":"datum.value % 1 == 0","value":-3.5},"value":-2}}},
"text":{"field":"txt"}}}
]},
{"title":{"text":"(b)","dx":-57,"dy":13},"width":260,"height":208,
"resolve":{"axis":{"x":"independent","y":"independent"}},
"layer":[
{"data":{"name":"vr"},"mark":{"type":"rule","color":"#cccccc","strokeWidth":1},
"encoding":{"x":{"field":"t","type":"quantitative","scale":{"domain":[0,195],"nice":false,"zero":false},
"axis":{"orient":"top","title":null,"labels":false,"values":[0,15,30,45,60,75,90,105,120,135,150,165,180,195],"tickSize":{"condition":{"test":"datum.value % 30 == 0","value":-3.5},"value":-2}}}}},
{"data":{"name":"tb"},"mark":{"type":"line","strokeWidth":0.8,"interpolate":"monotone"},
"encoding":{"x":{"field":"t","type":"quantitative","scale":{"domain":[0,195],"nice":false,"zero":false},
"axis":{"orient":"bottom","title":"time (s)","values":[0,15,30,45,60,75,90,105,120,135,150,165,180,195],"labelExpr":"datum.value % 30 == 0 ? '' + datum.value : ''","tickSize":{"condition":{"test":"datum.value % 30 == 0","value":3.5},"value":2}}},
"y":{"field":"y","type":"quantitative","scale":{"domain":[0.55,10.45],"nice":false,"zero":false},
"axis":{"orient":"left","title":"F/F₀","values":[1,1.5,2,2.5,3,3.5,4,4.5,5,5.5,6,6.5,7,7.5,8,8.5,9,9.5,10],"labelExpr":"datum.value % 1 == 0 ? '' + datum.value : ''","tickSize":{"condition":{"test":"datum.value % 1 == 0","value":3.5},"value":2},"titlePadding":12}},
"color":{"field":"k","type":"nominal","scale":{"domain":["k1","k2","k3","k4","k5","k6","k7","k8","b1","b2","b3","b4","r1","r2","r3"],"range":["#000000","#000000","#000000","#000000","#000000","#000000","#000000","#000000","#3b3bd4","#3b3bd4","#3b3bd4","#3b3bd4","#e03c31","#e03c31","#e03c31"]},"legend":null}}},
{"data":{"name":"lab"},"transform":[{"filter":"datum.p == 'b'"}],"mark":{"type":"text","fontSize":16,"align":"left","baseline":"alphabetic"},
"encoding":{"x":{"field":"t","type":"quantitative","scale":{"domain":[0,195],"nice":false,"zero":false},"axis":null},
"y":{"field":"y","type":"quantitative","scale":{"domain":[0.55,10.45],"nice":false,"zero":false},
"axis":{"orient":"right","title":null,"labels":false,"values":[1,1.5,2,2.5,3,3.5,4,4.5,5,5.5,6,6.5,7,7.5,8,8.5,9,9.5,10],"tickSize":{"condition":{"test":"datum.value % 1 == 0","value":-3.5},"value":-2}}},
"text":{"field":"txt"}}},
{"data":{"name":"flab"},"mark":{"type":"text","fontSize":17,"align":"left","baseline":"alphabetic"},
"encoding":{"x":{"field":"t","type":"quantitative","scale":{"domain":[0,195],"nice":false,"zero":false},"axis":null},
"y":{"field":"y","type":"quantitative","scale":{"domain":[0.55,10.45],"nice":false,"zero":false},"axis":null},
"text":{"value":"F"}}},
{"data":{"name":"flab"},"mark":{"type":"text","fontSize":11,"align":"left","baseline":"alphabetic","dx":11,"dy":4},
"encoding":{"x":{"field":"t","type":"quantitative","scale":{"domain":[0,195],"nice":false,"zero":false},"axis":null},
"y":{"field":"y","type":"quantitative","scale":{"domain":[0.55,10.45],"nice":false,"zero":false},"axis":null},
"text":{"field":"sub"}}}
]},
{"title":{"text":"(c)","dx":-56,"dy":15},"width":260,"height":208,
"resolve":{"axis":{"x":"independent","y":"independent"}},
"layer":[
{"data":{"name":"fit"},"transform":[{"filter":"datum.p == 'c' && datum.s == 'GCaMP6s'"}],"mark":{"type":"line","color":"#1a1a1a","strokeWidth":0.8,"interpolate":"monotone","clip":true},
"encoding":{"x":{"field":"c","type":"quantitative","scale":{"type":"log","domain":[0.0001,20],"nice":false},
"axis":{"orient":"top","title":null,"labels":false,"values":[0.0001,0.0002,0.0003,0.0004,0.0005,0.0006,0.0007,0.0008,0.0009,0.001,0.002,0.003,0.004,0.005,0.006,0.007,0.008,0.009,0.01,0.02,0.03,0.04,0.05,0.06,0.07,0.08,0.09,0.1,0.2,0.3,0.4,0.5,0.6,0.7,0.8,0.9,1,2,3,4,5,6,7,8,9,10,20],"tickSize":{"condition":{"test":"abs(log(datum.value)/LN10 - round(log(datum.value)/LN10)) < 0.001","value":-3.5},"value":-2}}},
"y":{"field":"y","type":"quantitative","scale":{"domain":[-10,120],"nice":false,"zero":false},
"axis":{"orient":"right","title":null,"labels":false,"values":[-10,0,10,20,30,40,50,60,70,80,90,100,110,120],"tickSize":{"condition":{"test":"datum.value % 20 == 0","value":-3.5},"value":-2}}}}},
{"data":{"name":"fit"},"transform":[{"filter":"datum.p == 'c' && datum.s == 'fluo-4'"}],"mark":{"type":"line","color":"#1a1a1a","strokeWidth":0.8,"strokeDash":[3,2],"interpolate":"monotone","clip":true},
"encoding":{"x":{"field":"c","type":"quantitative","scale":{"type":"log","domain":[0.0001,20],"nice":false},"axis":null},
"y":{"field":"y","type":"quantitative","scale":{"domain":[-10,120],"nice":false,"zero":false},"axis":null}}},
{"data":{"name":"pts"},"transform":[{"filter":"datum.p == 'c'"}],"mark":{"type":"errorbar","ticks":true,"size":5,"thickness":0.8,"color":"#444444"},
"encoding":{"x":{"field":"c","type":"quantitative","scale":{"type":"log","domain":[0.0001,20],"nice":false},"axis":null},
"y":{"field":"y","type":"quantitative","scale":{"domain":[-10,120],"nice":false,"zero":false},"axis":null},
"yError":{"field":"e"}}},
{"data":{"name":"pts"},"transform":[{"filter":"datum.p == 'c'"}],"mark":{"type":"point","filled":true,"strokeWidth":0.8,"opacity":1,"size":30,"clip":true},
"encoding":{"x":{"field":"c","type":"quantitative","scale":{"type":"log","domain":[0.0001,20],"nice":false},
"axis":{"orient":"bottom","title":"[capsaicin] (µM)","values":[0.0001,0.0002,0.0003,0.0004,0.0005,0.0006,0.0007,0.0008,0.0009,0.001,0.002,0.003,0.004,0.005,0.006,0.007,0.008,0.009,0.01,0.02,0.03,0.04,0.05,0.06,0.07,0.08,0.09,0.1,0.2,0.3,0.4,0.5,0.6,0.7,0.8,0.9,1,2,3,4,5,6,7,8,9,10,20],"labelExpr":"datum.value < 0.00015 ? '1E-4' : (abs(log(datum.value)/LN10 - round(log(datum.value)/LN10)) < 0.001 ? format(datum.value, '~g') : '')","tickSize":{"condition":{"test":"abs(log(datum.value)/LN10 - round(log(datum.value)/LN10)) < 0.001","value":3.5},"value":2}}},
"y":{"field":"y","type":"quantitative","scale":{"domain":[-10,120],"nice":false,"zero":false},
"axis":{"orient":"left","title":"response (% control)","values":[-10,0,10,20,30,40,50,60,70,80,90,100,110,120],"labelExpr":"datum.value % 20 == 0 ? '' + datum.value : ''","tickSize":{"condition":{"test":"datum.value % 20 == 0","value":3.5},"value":2},"titlePadding":2}},
"shape":{"field":"s","type":"nominal","scale":{"domain":["GCaMP6s","fluo-4"],"range":["square","circle"]},"legend":{"orient":"none","legendX":17,"legendY":10,"title":null}},
"fill":{"field":"s","type":"nominal","scale":{"domain":["GCaMP6s","fluo-4"],"range":["black","white"]},"legend":{"orient":"none","legendX":17,"legendY":10,"title":null}},
"stroke":{"field":"s","type":"nominal","scale":{"domain":["GCaMP6s","fluo-4"],"range":["black","black"]},"legend":{"orient":"none","legendX":17,"legendY":10,"title":null}}}}
]},
{"title":{"text":"(d)","dx":-57,"dy":15},"width":260,"height":208,
"resolve":{"axis":{"x":"independent","y":"independent"}},
"layer":[
{"data":{"name":"fit"},"transform":[{"filter":"datum.p == 'd' && datum.s == 'GCaMP6s'"}],"mark":{"type":"line","color":"#1a1a1a","strokeWidth":0.8,"interpolate":"monotone","clip":true},
"encoding":{"x":{"field":"c","type":"quantitative","scale":{"type":"log","domain":[0.0001,20],"nice":false},
"axis":{"orient":"top","title":null,"labels":false,"values":[0.0001,0.0002,0.0003,0.0004,0.0005,0.0006,0.0007,0.0008,0.0009,0.001,0.002,0.003,0.004,0.005,0.006,0.007,0.008,0.009,0.01,0.02,0.03,0.04,0.05,0.06,0.07,0.08,0.09,0.1,0.2,0.3,0.4,0.5,0.6,0.7,0.8,0.9,1,2,3,4,5,6,7,8,9,10,20],"tickSize":{"condition":{"test":"abs(log(datum.value)/LN10 - round(log(datum.value)/LN10)) < 0.001","value":-3.5},"value":-2}}},
"y":{"field":"y","type":"quantitative","scale":{"domain":[-10,110],"nice":false,"zero":false},
"axis":{"orient":"right","title":null,"labels":false,"values":[-10,0,10,20,30,40,50,60,70,80,90,100,110],"tickSize":{"condition":{"test":"datum.value % 20 == 0","value":-3.5},"value":-2}}}}},
{"data":{"name":"fit"},"transform":[{"filter":"datum.p == 'd' && datum.s == 'fluo-4'"}],"mark":{"type":"line","color":"#1a1a1a","strokeWidth":0.8,"strokeDash":[3,2],"interpolate":"monotone","clip":true},
"encoding":{"x":{"field":"c","type":"quantitative","scale":{"type":"log","domain":[0.0001,20],"nice":false},"axis":null},
"y":{"field":"y","type":"quantitative","scale":{"domain":[-10,110],"nice":false,"zero":false},"axis":null}}},
{"data":{"name":"pts"},"transform":[{"filter":"datum.p == 'd'"}],"mark":{"type":"errorbar","ticks":true,"size":5,"thickness":0.8,"color":"#444444"},
"encoding":{"x":{"field":"c","type":"quantitative","scale":{"type":"log","domain":[0.0001,20],"nice":false},"axis":null},
"y":{"field":"y","type":"quantitative","scale":{"domain":[-10,110],"nice":false,"zero":false},"axis":null},
"yError":{"field":"e"}}},
{"data":{"name":"pts"},"transform":[{"filter":"datum.p == 'd'"}],"mark":{"type":"point","filled":true,"strokeWidth":0.8,"opacity":1,"size":30,"clip":true},
"encoding":{"x":{"field":"c","type":"quantitative","scale":{"type":"log","domain":[0.0001,20],"nice":false},
"axis":{"orient":"bottom","title":"[dihydrocapsaicin] (µM)","values":[0.0001,0.0002,0.0003,0.0004,0.0005,0.0006,0.0007,0.0008,0.0009,0.001,0.002,0.003,0.004,0.005,0.006,0.007,0.008,0.009,0.01,0.02,0.03,0.04,0.05,0.06,0.07,0.08,0.09,0.1,0.2,0.3,0.4,0.5,0.6,0.7,0.8,0.9,1,2,3,4,5,6,7,8,9,10,20],"labelExpr":"datum.value < 0.00015 ? '1E-4' : (abs(log(datum.value)/LN10 - round(log(datum.value)/LN10)) < 0.001 ? format(datum.value, '~g') : '')","tickSize":{"condition":{"test":"abs(log(datum.value)/LN10 - round(log(datum.value)/LN10)) < 0.001","value":3.5},"value":2}}},
"y":{"field":"y","type":"quantitative","scale":{"domain":[-10,110],"nice":false,"zero":false},
"axis":{"orient":"left","title":"response (% control)","values":[-10,0,10,20,30,40,50,60,70,80,90,100,110],"labelExpr":"datum.value % 20 == 0 ? '' + datum.value : ''","tickSize":{"condition":{"test":"datum.value % 20 == 0","value":3.5},"value":2},"titlePadding":8}},
"shape":{"field":"s","type":"nominal","scale":{"domain":["GCaMP6s","fluo-4"],"range":["square","circle"]},"legend":{"orient":"none","legendX":15,"legendY":7,"title":null}},
"fill":{"field":"s","type":"nominal","scale":{"domain":["GCaMP6s","fluo-4"],"range":["black","white"]},"legend":{"orient":"none","legendX":15,"legendY":7,"title":null}},
"stroke":{"field":"s","type":"nominal","scale":{"domain":["GCaMP6s","fluo-4"],"range":["black","black"]},"legend":{"orient":"none","legendX":15,"legendY":7,"title":null}}}}
]},
{"title":{"text":"(e)","dx":-56,"dy":6},"width":260,"height":208,
"resolve":{"axis":{"x":"independent","y":"independent"}},
"layer":[
{"data":{"name":"fit"},"transform":[{"filter":"datum.p == 'e' && datum.s == 'GCaMP6s'"}],"mark":{"type":"line","color":"#1a1a1a","strokeWidth":0.8,"interpolate":"monotone","clip":true},
"encoding":{"x":{"field":"c","type":"quantitative","scale":{"type":"log","domain":[0.0001,20],"nice":false},
"axis":{"orient":"top","title":null,"labels":false,"values":[0.0001,0.0002,0.0003,0.0004,0.0005,0.0006,0.0007,0.0008,0.0009,0.001,0.002,0.003,0.004,0.005,0.006,0.007,0.008,0.009,0.01,0.02,0.03,0.04,0.05,0.06,0.07,0.08,0.09,0.1,0.2,0.3,0.4,0.5,0.6,0.7,0.8,0.9,1,2,3,4,5,6,7,8,9,10,20],"tickSize":{"condition":{"test":"abs(log(datum.value)/LN10 - round(log(datum.value)/LN10)) < 0.001","value":-3.5},"value":-2}}},
"y":{"field":"y","type":"quantitative","scale":{"domain":[-20,120],"nice":false,"zero":false},
"axis":{"orient":"right","title":null,"labels":false,"values":[-20,-10,0,10,20,30,40,50,60,70,80,90,100,110,120],"tickSize":{"condition":{"test":"datum.value % 20 == 0","value":-3.5},"value":-2}}}}},
{"data":{"name":"fit"},"transform":[{"filter":"datum.p == 'e' && datum.s == 'fluo-4'"}],"mark":{"type":"line","color":"#1a1a1a","strokeWidth":0.8,"strokeDash":[3,2],"interpolate":"monotone","clip":true},
"encoding":{"x":{"field":"c","type":"quantitative","scale":{"type":"log","domain":[0.0001,20],"nice":false},"axis":null},
"y":{"field":"y","type":"quantitative","scale":{"domain":[-20,120],"nice":false,"zero":false},"axis":null}}},
{"data":{"name":"pts"},"transform":[{"filter":"datum.p == 'e'"}],"mark":{"type":"errorbar","ticks":true,"size":5,"thickness":0.8,"color":"#444444"},
"encoding":{"x":{"field":"c","type":"quantitative","scale":{"type":"log","domain":[0.0001,20],"nice":false},"axis":null},
"y":{"field":"y","type":"quantitative","scale":{"domain":[-20,120],"nice":false,"zero":false},"axis":null},
"yError":{"field":"e"}}},
{"data":{"name":"pts"},"transform":[{"filter":"datum.p == 'e'"}],"mark":{"type":"point","filled":true,"strokeWidth":0.8,"opacity":1,"size":30,"clip":true},
"encoding":{"x":{"field":"c","type":"quantitative","scale":{"type":"log","domain":[0.0001,20],"nice":false},
"axis":{"orient":"bottom","title":"[JNJ-39729209] (µM)","values":[0.0001,0.0002,0.0003,0.0004,0.0005,0.0006,0.0007,0.0008,0.0009,0.001,0.002,0.003,0.004,0.005,0.006,0.007,0.008,0.009,0.01,0.02,0.03,0.04,0.05,0.06,0.07,0.08,0.09,0.1,0.2,0.3,0.4,0.5,0.6,0.7,0.8,0.9,1,2,3,4,5,6,7,8,9,10,20],"labelExpr":"datum.value < 0.00015 ? '1E-4' : (abs(log(datum.value)/LN10 - round(log(datum.value)/LN10)) < 0.001 ? format(datum.value, '~g') : '')","tickSize":{"condition":{"test":"abs(log(datum.value)/LN10 - round(log(datum.value)/LN10)) < 0.001","value":3.5},"value":2}}},
"y":{"field":"y","type":"quantitative","scale":{"domain":[-20,120],"nice":false,"zero":false},
"axis":{"orient":"left","title":"response (% control)","values":[-20,-10,0,10,20,30,40,50,60,70,80,90,100,110,120],"labelExpr":"datum.value % 20 == 0 ? '' + datum.value : ''","tickSize":{"condition":{"test":"datum.value % 20 == 0","value":3.5},"value":2},"titlePadding":1}},
"shape":{"field":"s","type":"nominal","scale":{"domain":["GCaMP6s","fluo-4"],"range":["square","circle"]},"legend":{"orient":"none","legendX":8,"legendY":86,"title":null}},
"fill":{"field":"s","type":"nominal","scale":{"domain":["GCaMP6s","fluo-4"],"range":["black","white"]},"legend":{"orient":"none","legendX":8,"legendY":86,"title":null}},
"stroke":{"field":"s","type":"nominal","scale":{"domain":["GCaMP6s","fluo-4"],"range":["black","black"]},"legend":{"orient":"none","legendX":8,"legendY":86,"title":null}}}}
]},
{"title":{"text":"(f)","dx":-57,"dy":11},"width":260,"height":208,
"resolve":{"axis":{"x":"independent","y":"independent"}},
"layer":[
{"data":{"name":"fit"},"transform":[{"filter":"datum.p == 'f' && datum.s == 'GCaMP6s'"}],"mark":{"type":"line","color":"#1a1a1a","strokeWidth":0.8,"interpolate":"monotone","clip":true},
"encoding":{"x":{"field":"c","type":"quantitative","scale":{"type":"log","domain":[0.00015,10],"nice":false},
"axis":{"orient":"top","title":null,"labels":false,"values":[0.0002,0.0003,0.0004,0.0005,0.0006,0.0007,0.0008,0.0009,0.001,0.002,0.003,0.004,0.005,0.006,0.007,0.008,0.009,0.01,0.02,0.03,0.04,0.05,0.06,0.07,0.08,0.09,0.1,0.2,0.3,0.4,0.5,0.6,0.7,0.8,0.9,1,2,3,4,5,6,7,8,9,10],"tickSize":{"condition":{"test":"abs(log(datum.value)/LN10 - round(log(datum.value)/LN10)) < 0.001","value":-3.5},"value":-2}}},
"y":{"field":"y","type":"quantitative","scale":{"domain":[-10,110],"nice":false,"zero":false},
"axis":{"orient":"right","title":null,"labels":false,"values":[-10,0,10,20,30,40,50,60,70,80,90,100,110],"tickSize":{"condition":{"test":"datum.value % 20 == 0","value":-3.5},"value":-2}}}}},
{"data":{"name":"fit"},"transform":[{"filter":"datum.p == 'f' && datum.s == 'fluo-4'"}],"mark":{"type":"line","color":"#1a1a1a","strokeWidth":0.8,"strokeDash":[3,2],"interpolate":"monotone","clip":true},
"encoding":{"x":{"field":"c","type":"quantitative","scale":{"type":"log","domain":[0.00015,10],"nice":false},"axis":null},
"y":{"field":"y","type":"quantitative","scale":{"domain":[-10,110],"nice":false,"zero":false},"axis":null}}},
{"data":{"name":"pts"},"transform":[{"filter":"datum.p == 'f'"}],"mark":{"type":"errorbar","ticks":true,"size":5,"thickness":0.8,"color":"#444444"},
"encoding":{"x":{"field":"c","type":"quantitative","scale":{"type":"log","domain":[0.00015,10],"nice":false},"axis":null},
"y":{"field":"y","type":"quantitative","scale":{"domain":[-10,110],"nice":false,"zero":false},"axis":null},
"yError":{"field":"e"}}},
{"data":{"name":"pts"},"transform":[{"filter":"datum.p == 'f'"}],"mark":{"type":"point","filled":true,"strokeWidth":0.8,"opacity":1,"size":30,"clip":true},
"encoding":{"x":{"field":"c","type":"quantitative","scale":{"type":"log","domain":[0.00015,10],"nice":false},
"axis":{"orient":"bottom","title":"[AMG9810] (µM)","values":[0.0002,0.0003,0.0004,0.0005,0.0006,0.0007,0.0008,0.0009,0.001,0.002,0.003,0.004,0.005,0.006,0.007,0.008,0.009,0.01,0.02,0.03,0.04,0.05,0.06,0.07,0.08,0.09,0.1,0.2,0.3,0.4,0.5,0.6,0.7,0.8,0.9,1,2,3,4,5,6,7,8,9,10],"labelExpr":"abs(log(datum.value)/LN10 - round(log(datum.value)/LN10)) < 0.001 ? format(datum.value, '~g') : ''","tickSize":{"condition":{"test":"abs(log(datum.value)/LN10 - round(log(datum.value)/LN10)) < 0.001","value":3.5},"value":2}}},
"y":{"field":"y","type":"quantitative","scale":{"domain":[-10,110],"nice":false,"zero":false},
"axis":{"orient":"left","title":"response (% control)","values":[-10,0,10,20,30,40,50,60,70,80,90,100,110],"labelExpr":"datum.value % 20 == 0 ? '' + datum.value : ''","tickSize":{"condition":{"test":"datum.value % 20 == 0","value":3.5},"value":2},"titlePadding":4}},
"shape":{"field":"s","type":"nominal","scale":{"domain":["GCaMP6s","fluo-4"],"range":["square","circle"]},"legend":{"orient":"none","legendX":19,"legendY":123,"title":null}},
"fill":{"field":"s","type":"nominal","scale":{"domain":["GCaMP6s","fluo-4"],"range":["black","white"]},"legend":{"orient":"none","legendX":19,"legendY":123,"title":null}},
"stroke":{"field":"s","type":"nominal","scale":{"domain":["GCaMP6s","fluo-4"],"range":["black","black"]},"legend":{"orient":"none","legendX":19,"legendY":123,"title":null}}}}
]}
]
}
